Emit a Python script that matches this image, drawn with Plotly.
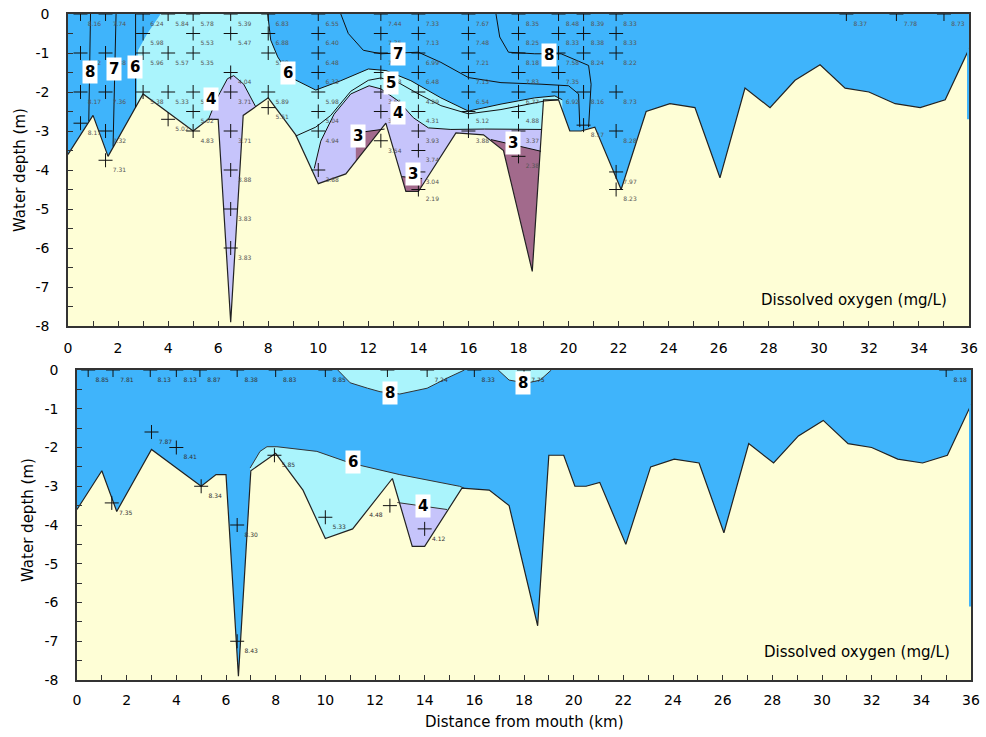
import plotly.graph_objects as go

# ---------------- data ----------------
# Channel bed profile (distance from mouth in km, depth in m)
bed_km = [0, 1.0, 1.6, 3.0, 5.0, 5.6, 6.0, 6.5, 7.0, 8.0, 9.1, 10.0, 11.1, 12.7, 13.5, 14.0,
          15.5, 16.6, 17.4, 18.55, 19.0, 19.6, 20.05, 20.5, 21.05, 22.1, 23.1, 24.05, 25.05,
          26.05, 27.05, 28.05, 29.05, 30.05, 31.05, 32.0, 33.05, 34.05, 35.05, 36.0]
bed_depth = [-3.6, -2.6, -3.65, -2.05, -3.0, -2.7, -2.7, -7.9, -2.6, -2.15, -3.1, -4.35, -4.1,
             -2.8, -4.55, -4.55, -3.05, -3.1, -3.5, -6.6, -2.2, -2.2, -3.0, -3.0, -2.9, -4.5,
             -2.5, -2.3, -2.4, -4.2, -1.9, -2.4, -1.7, -1.3, -1.9, -2.0, -2.3, -2.4, -2.2, -0.9]

# Upper section: sampling points and dissolved oxygen (mg/L)
top_km = [0.5, 0.5, 0.5, 0.5,
          1.5, 1.5, 1.5, 1.5, 1.5,
          3.0, 3.0, 3.0, 3.0,
          4.0, 4.0, 4.0, 4.0,
          5.0, 5.0, 5.0, 5.0, 5.0, 5.0,
          6.5, 6.5, 6.5, 6.5, 6.5, 6.5, 6.5, 6.5,
          8.0, 8.0, 8.0, 8.0, 8.0,
          10.0, 10.0, 10.0, 10.0, 10.0, 10.0, 10.0, 10.0,
          12.5, 12.5, 12.5, 12.5, 12.5, 12.5, 12.5,
          14.0, 14.0, 14.0, 14.0, 14.0, 14.0, 14.0, 14.0, 14.0, 14.0,
          16.0, 16.0, 16.0, 16.0, 16.0, 16.0, 16.0,
          18.0, 18.0, 18.0, 18.0, 18.0, 18.0, 18.0, 18.0,
          19.6, 19.6, 19.6, 19.6, 19.6,
          20.6, 20.6, 20.6, 20.6, 20.6,
          21.9, 21.9, 21.9, 21.9, 21.9, 21.9, 21.9,
          31.1, 33.1, 35.0]
top_depth = [0, -1, -2, -2.8,
             0, -1, -2, -3, -3.75,
             0, -0.5, -1, -2,
             0, -1, -2, -2.7,
             0, -0.5, -1, -2, -2.5, -3,
             0, -0.5, -1.5, -2, -3, -4, -5, -6,
             0, -0.5, -1, -2, -2.4,
             0, -0.5, -1, -1.5, -2, -2.5, -3, -4,
             0, -0.5, -1, -1.5, -2, -2.5, -3.25,
             0, -0.5, -1, -1.5, -2, -2.5, -3, -3.5, -4.05, -4.5,
             0, -0.5, -1, -1.5, -2, -2.5, -3,
             0, -0.5, -1, -1.5, -2, -2.5, -3, -3.65,
             0, -0.5, -1, -1.5, -2,
             0, -0.5, -1, -2, -2.85,
             0, -0.5, -1, -2, -3, -4.05, -4.5,
             0, 0, 0]
top_do = [8.16, 8.12, 8.17, 8.17,
          7.74, 7.38, 7.36, 7.32, 7.31,
          6.24, 5.98, 5.96, 5.38,
          5.84, 5.57, 5.33, 5.02,
          5.78, 5.53, 5.35, 5.05, 5.02, 4.83,
          5.39, 5.47, 4.04, 3.71, 3.71, 3.88, 3.83, 3.83,
          6.83, 6.88, 5.88, 5.89, 5.51,
          6.55, 6.40, 6.48, 6.33, 5.98, 5.04, 4.94, 3.88,
          7.44, 7.35, 7.20, 6.28, 3.61, 3.54, 3.54,
          7.33, 7.13, 6.99, 6.48, 4.29, 4.31, 3.93, 3.74, 3.04, 2.19,
          7.67, 7.48, 7.21, 7.13, 6.54, 5.12, 3.88,
          8.35, 8.25, 8.18, 7.83, 6.77, 4.88, 3.37, 2.38,
          8.48, 8.33, 7.58, 7.35, 6.92,
          8.39, 8.38, 8.24, 8.16, 8.17,
          8.33, 8.33, 8.22, 8.73, 8.28, 7.97, 8.23,
          8.37, 7.78, 8.73]

# Lower section: sampling points and dissolved oxygen (mg/L)
bot_km = [0.45, 1.45, 2.95, 4.0, 4.95, 6.45, 8.0, 10.0, 12.5, 14.1, 16.0, 18.0, 35.0,
          1.4, 3.0, 4.0, 5.0, 6.45, 6.45, 7.95, 10.0, 12.6, 14.0]
bot_depth = [0, 0, 0, 0, 0, 0, 0, 0, 0, 0, 0, 0, 0,
             -3.43, -1.6, -2.0, -3.0, -4.0, -7.0, -2.2, -3.8, -3.5, -4.1]
bot_do = ["8.85", "7.81", "8.13", "8.13", "8.87", "8.38", "8.83", "8.85", "", "7.24", "8.33", "7.75", "8.18",
          "7.35", "7.87", "8.41", "8.34", "8.30", "8.43", "5.85", "5.33", "4.48", "4.12"]

# Isolines, upper section
t6_right_km = [7.98, 8.1, 8.38, 8.9, 9.9, 10.9, 12.0, 12.7, 13.7, 14.9, 16.0, 17.3, 18.65, 19.45, 19.75]
t6_right_d = [0, -0.67, -1.1, -1.63, -1.95, -1.71, -1.41, -1.45, -1.71, -2.15, -2.49, -2.31, -2.15, -2.1, -2.2]
t6_left_km = [3.7, 3.17, 2.8, 2.75, 2.72]
t6_left_d = [0, -0.5, -0.93, -1.37, -2.3]
t8_left_km = [0.9, 0.88, 0.85, 0.83]
t8_left_d = [0, -1, -2, -2.75]
t7_left_km = [1.92, 1.9, 1.85, 1.8]
t7_left_d = [0, -1, -2, -3.4]
t6_line_km = [2.7, 2.7, 2.7]
t6_line_d = [0, -1, -2.4]
t5_km = [9.1, 9.9, 10.5, 11.3, 12.0, 12.5, 13.2, 14.0, 14.9, 16.0, 17.3, 18.3, 19.05, 19.6]
t5_d = [-3.13, -2.9, -2.6, -1.98, -1.7, -1.64, -1.76, -2.05, -2.35, -2.56, -2.45, -2.33, -2.23, -2.2]
t7_right_km = [10.9, 11.2, 11.8, 12.5, 14.0, 14.9, 16.0, 17.3, 18.9, 20.0, 20.4, 20.45]
t7_right_d = [0, -0.5, -0.93, -1.02, -0.98, -1.24, -1.63, -1.76, -1.8, -1.84, -2.05, -2.9]
t8_right_km = [17.1, 17.25, 17.6, 18.65, 19.7, 20.8, 20.9, 20.8]
t8_right_d = [0, -0.59, -0.98, -1.02, -1.02, -1.32, -1.8, -2.9]
t4a_km = [5.6, 5.97, 6.37, 6.62, 7.02, 7.5]
t4a_d = [-2.72, -2.14, -1.66, -1.58, -1.8, -2.38]
t4b_km = [9.84, 10.1, 10.63, 11.3, 12.03, 12.5, 13.2, 13.8, 14.4, 15.3, 16.65, 18.0, 18.9]
t4b_d = [-3.96, -3.26, -2.57, -2.05, -1.84, -1.92, -2.23, -2.66, -2.92, -2.96, -2.95, -2.96, -2.96]
t3a_km = [11.5, 12.65]
t3a_d = [-3.05, -2.95]
t3b_km = [13.35, 14.15]
t3b_d = [-4.17, -4.22]
t3c_km = [16.9, 18.9]
t3c_d = [-3.22, -3.52]

# Isolines, lower section
b8a_km = [10.5, 11.0, 11.7, 12.2, 13.0, 14.1, 14.9, 15.6]
b8a_d = [0, -0.33, -0.47, -0.56, -0.62, -0.47, -0.21, 0]
b8b_km = [16.96, 17.4, 18.1, 18.65, 19.1]
b8b_d = [0, -0.26, -0.34, -0.26, 0]
b6_km = [6.97, 7.37, 7.65, 8.05, 9.66, 11.0, 13.0, 15.4, 15.6]
b6_d = [-2.53, -2.1, -1.98, -1.98, -2.1, -2.4, -2.7, -3.0, -3.05]
b4_km = [12.9, 14.9]
b4_d = [-3.42, -3.6]

# Isoline labels
top_lbl = ["8", "7", "6", "6", "4", "7", "5", "4", "8", "3", "3", "3"]
top_lbl_km = [0.88, 1.85, 2.69, 8.78, 5.7, 13.2, 12.9, 13.2, 19.2, 11.6, 13.8, 17.8]
top_lbl_d = [-1.48, -1.42, -1.37, -1.5, -2.17, -1.02, -1.76, -2.53, -1.04, -3.13, -4.1, -3.3]
bot_lbl = ["8", "8", "6", "4"]
bot_lbl_km = [12.6, 17.95, 11.1, 13.95]
bot_lbl_d = [-0.6, -0.34, -2.37, -3.5]

x_ticks = list(range(0, 37))
x_ticktext = [str(v) if v % 2 == 0 else "" for v in x_ticks]
y_ticks = [-v / 2 for v in range(0, 17)]
y_ticktext = [str(int(v)) if v == int(v) else "" for v in y_ticks]

# ---------------- styling ----------------
WATER = "#3fb4fb"
CYAN = "#aaf4fc"
LAVENDER = "#c6c4fb"
MAUVE = "#a26a8c"
SAND = "#fefed6"
FONT = "DejaVu Sans"

fig = go.Figure()


def zone(xs, ys, color, xa, ya):
    fig.add_trace(go.Scatter(x=xs, y=ys, fill="toself", fillcolor=color, mode="lines",
                             line=dict(width=0, color=color), xaxis=xa, yaxis=ya,
                             hoverinfo="skip", showlegend=False))


def iso(xs, ys, xa, ya, color="#111111", width=1):
    fig.add_trace(go.Scatter(x=xs, y=ys, mode="lines", line=dict(color=color, width=width),
                             xaxis=xa, yaxis=ya, hoverinfo="skip", showlegend=False))


def closed_down(xs, ys):
    return xs + [xs[-1], xs[0], xs[0]], ys + [-8, -8, ys[0]]


# ---- upper section ----
xa, ya = "x", "y"
zone(t6_right_km + [19.75, 2.72] + t6_left_km[::-1],
     t6_right_d + [-8, -8] + t6_left_d[::-1], CYAN, xa, ya)
for kx, kd in [(t4a_km, t4a_d), (t4b_km, t4b_d)]:
    zx, zy = closed_down(kx, kd)
    zone(zx, zy, LAVENDER, xa, ya)
for kx, kd in [(t3a_km, t3a_d), (t3b_km, t3b_d), (t3c_km, t3c_d)]:
    zx, zy = closed_down(kx, kd)
    zone(zx, zy, MAUVE, xa, ya)

zone(bed_km + [36, 0], bed_depth + [-8, -8], SAND, xa, ya)
iso(bed_km, bed_depth, xa, ya, "#222222", 1.2)
iso([35.96, 35.96], [-0.9, -2.7], xa, ya, WATER, 2)

for kx, kd in [(t8_left_km, t8_left_d), (t7_left_km, t7_left_d), (t6_line_km, t6_line_d),
               (t6_right_km, t6_right_d), (t5_km, t5_d), (t7_right_km, t7_right_d),
               (t8_right_km, t8_right_d), (t4a_km, t4a_d), (t4b_km, t4b_d),
               (t3a_km, t3a_d), (t3b_km, t3b_d), (t3c_km, t3c_d)]:
    iso(kx, kd, xa, ya)

fig.add_trace(go.Scatter(x=top_km, y=top_depth, mode="markers+text",
                         text=[f"{v:.2f}" for v in top_do], textposition="bottom right",
                         textfont=dict(size=6, color="#555555", family=FONT),
                         marker=dict(symbol="cross-thin", size=10, line=dict(width=1, color="#111111")),
                         xaxis=xa, yaxis=ya, hoverinfo="skip", showlegend=False))

# ---- lower section ----
xa, ya = "x2", "y2"
zone(b8a_km, b8a_d, CYAN, xa, ya)
zone(b8b_km, b8b_d, CYAN, xa, ya)
zx, zy = closed_down(b6_km, b6_d)
zone(zx, zy, CYAN, xa, ya)
zx, zy = closed_down(b4_km, b4_d)
zone(zx, zy, LAVENDER, xa, ya)

zone(bed_km + [36, 0], bed_depth + [-8, -8], SAND, xa, ya)
iso(bed_km, bed_depth, xa, ya, "#222222", 1.2)
iso([35.96, 35.96], [-0.9, -6.1], xa, ya, WATER, 2)
for kx, kd in [(b8a_km, b8a_d), (b8b_km, b8b_d), (b6_km, b6_d), (b4_km, b4_d)]:
    iso(kx, kd, xa, ya, "#333333")

bot_pos = ["bottom right"] * len(bot_km)
bot_pos[bot_do.index("4.48")] = "bottom left"
fig.add_trace(go.Scatter(x=bot_km, y=bot_depth, mode="markers+text",
                         text=bot_do, textposition=bot_pos,
                         textfont=dict(size=6, color="#333333", family=FONT),
                         marker=dict(symbol="cross-thin", size=10, line=dict(width=1, color="#111111")),
                         xaxis=xa, yaxis=ya, hoverinfo="skip", showlegend=False))

# ---- labels ----
annotations = []
for txt, kx, kd in zip(top_lbl, top_lbl_km, top_lbl_d):
    annotations.append(dict(x=kx, y=kd, xref="x", yref="y", text=f"<b>{txt}</b>", showarrow=False,
                            bgcolor="white", borderpad=2, font=dict(size=15, color="black", family=FONT)))
for txt, kx, kd in zip(bot_lbl, bot_lbl_km, bot_lbl_d):
    annotations.append(dict(x=kx, y=kd, xref="x2", yref="y2", text=f"<b>{txt}</b>", showarrow=False,
                            bgcolor="white", borderpad=2, font=dict(size=15, color="black", family=FONT)))
annotations += [
    dict(x=35.2, y=-7.33, xref="x", yref="y", xanchor="right", yanchor="middle",
         text="Dissolved oxygen (mg/L)", showarrow=False, font=dict(size=15, color="black", family=FONT)),
    dict(x=35.25, y=-7.28, xref="x2", yref="y2", xanchor="right", yanchor="middle",
         text="Dissolved oxygen (mg/L)", showarrow=False, font=dict(size=15, color="black", family=FONT)),
    dict(x=20 / 986, y=1 - 170 / 737, xref="paper", yref="paper", xanchor="center", yanchor="middle",
         text="Water depth (m)", textangle=-90, showarrow=False,
         font=dict(size=15, color="black", family=FONT)),
    dict(x=28 / 986, y=1 - 520 / 737, xref="paper", yref="paper", xanchor="center", yanchor="middle",
         text="Water depth (m)", textangle=-90, showarrow=False,
         font=dict(size=15, color="black", family=FONT)),
    dict(x=524 / 986, y=1 - 722 / 737, xref="paper", yref="paper", xanchor="center", yanchor="middle",
         text="Distance from mouth (km)", showarrow=False, font=dict(size=15, color="black", family=FONT)),
]

axis_common = dict(showgrid=False, zeroline=False, showline=True, linecolor="#333333", linewidth=1.5,
                   mirror=True, ticks="inside", ticklen=5, tickcolor="#333333", automargin=False,
                   tickfont=dict(size=14, color="black", family=FONT))

fig.update_layout(
    width=986, height=737,
    margin=dict(l=0, r=0, t=0, b=0),
    paper_bgcolor="white",
    plot_bgcolor=WATER,
    showlegend=False,
    xaxis=dict(domain=[68 / 986, 969 / 986], range=[0, 36], anchor="y",
               tickvals=x_ticks, ticktext=x_ticktext, ticklabelstandoff=8, **axis_common),
    yaxis=dict(domain=[1 - 326 / 737, 1 - 14 / 737], range=[-8, 0], anchor="x",
               tickvals=y_ticks, ticktext=y_ticktext, ticklabelstandoff=14, **axis_common),
    xaxis2=dict(domain=[77 / 986, 971 / 986], range=[0, 36], anchor="y2",
                tickvals=x_ticks, ticktext=x_ticktext, ticklabelstandoff=6, **axis_common),
    yaxis2=dict(domain=[1 - 680 / 737, 1 - 370 / 737], range=[-8, 0], anchor="x2",
                tickvals=y_ticks, ticktext=y_ticktext, ticklabelstandoff=14, **axis_common),
    annotations=annotations,
)

fig.write_html("out.html")
